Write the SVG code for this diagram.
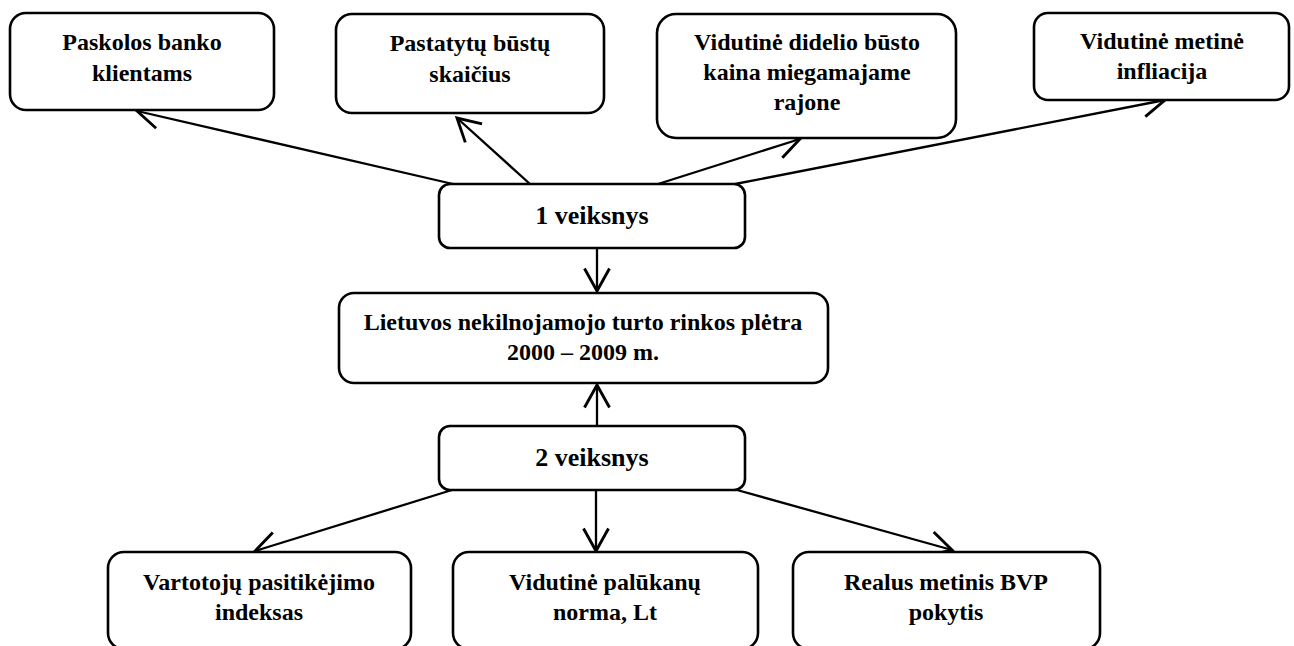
<svg xmlns="http://www.w3.org/2000/svg" width="1294" height="646" viewBox="0 0 1294 646">
  <style>
    .box { fill: #ffffff; stroke: #000000; stroke-width: 2.6; }
    .lbl { font-family: "Liberation Serif", "Times New Roman", serif; font-weight: bold; font-size: 24px; fill: #000000; text-anchor: middle; }
    .big { font-size: 26px; }
    .edge { fill: none; stroke: #000000; stroke-width: 2.3; marker-end: url(#open); }
  </style>
  <defs>
    <marker id="open" markerUnits="userSpaceOnUse" markerWidth="30" markerHeight="30" viewBox="-20 -12 24 24" refX="0" refY="0" orient="auto">
      <path d="M-18,-10 L0,0 L-18,10" fill="none" stroke="#000000" stroke-width="2.3"/>
    </marker>
  </defs>
  <rect width="1294" height="646" fill="#ffffff"/>

  <!-- connectors -->
  <g id="connectors">
    <line class="edge" x1="453" y1="184" x2="137" y2="111"/>
    <line class="edge" x1="530" y1="184" x2="457" y2="118"/>
    <line class="edge" x1="658" y1="184" x2="800" y2="139"/>
    <line class="edge" x1="735" y1="184" x2="1165" y2="100"/>
    <line class="edge" x1="597" y1="248" x2="597" y2="291"/>
    <line class="edge" x1="597" y1="426" x2="597" y2="385"/>
    <line class="edge" x1="452" y1="490" x2="255" y2="551"/>
    <line class="edge" x1="596" y1="490" x2="596" y2="551"/>
    <line class="edge" x1="737" y1="490" x2="952" y2="550"/>
  </g>

  <!-- top row -->
  <g id="paskolos">
    <rect class="box" x="10" y="13" width="264" height="97" rx="16"/>
    <text class="lbl" x="142" y="50">Paskolos banko</text>
    <text class="lbl" x="142" y="81">klientams</text>
  </g>
  <g id="pastatytu">
    <rect class="box" x="336" y="14" width="268" height="99" rx="16"/>
    <text class="lbl" x="470" y="51">Pastatytų būstų</text>
    <text class="lbl" x="470" y="82">skaičius</text>
  </g>
  <g id="kaina">
    <rect class="box" x="657" y="14" width="299" height="124" rx="19"/>
    <text class="lbl" x="807" y="50">Vidutinė didelio būsto</text>
    <text class="lbl" x="807" y="80">kaina miegamajame</text>
    <text class="lbl" x="807" y="110">rajone</text>
  </g>
  <g id="infliacija">
    <rect class="box" x="1034" y="13" width="255" height="87" rx="14"/>
    <text class="lbl" x="1162" y="49">Vidutinė metinė</text>
    <text class="lbl" x="1162" y="79">infliacija</text>
  </g>

  <!-- factor 1 -->
  <g id="veiksnys1">
    <rect class="box" x="439" y="184" width="306" height="64" rx="11"/>
    <text class="lbl big" x="592" y="224">1 veiksnys</text>
  </g>

  <!-- central node -->
  <g id="pletra">
    <rect class="box" x="339" y="293" width="489" height="90" rx="15"/>
    <text class="lbl" x="583" y="330">Lietuvos nekilnojamojo turto rinkos plėtra</text>
    <text class="lbl" x="583" y="360">2000 – 2009 m.</text>
  </g>

  <!-- factor 2 -->
  <g id="veiksnys2">
    <rect class="box" x="439" y="426" width="306" height="64" rx="11"/>
    <text class="lbl big" x="592" y="466">2 veiksnys</text>
  </g>

  <!-- bottom row -->
  <g id="vartotoju">
    <rect class="box" x="108" y="552" width="303" height="97" rx="16"/>
    <text class="lbl" x="259" y="590">Vartotojų pasitikėjimo</text>
    <text class="lbl" x="259" y="620">indeksas</text>
  </g>
  <g id="palukanu">
    <rect class="box" x="453" y="552" width="305" height="97" rx="16"/>
    <text class="lbl" x="605" y="590">Vidutinė palūkanų</text>
    <text class="lbl" x="605" y="620">norma, Lt</text>
  </g>
  <g id="bvp">
    <rect class="box" x="793" y="552" width="307" height="97" rx="16"/>
    <text class="lbl" x="946" y="590">Realus metinis BVP</text>
    <text class="lbl" x="946" y="620">pokytis</text>
  </g>
</svg>
